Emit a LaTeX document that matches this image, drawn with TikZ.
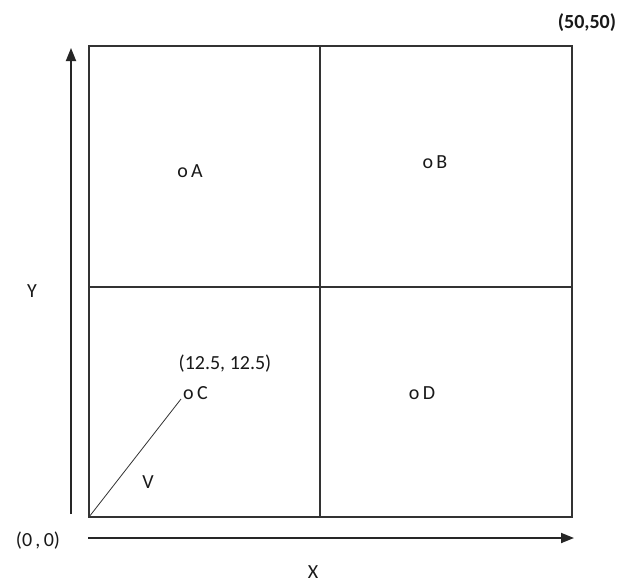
\documentclass[tikz,border=0pt]{standalone}
\usepackage{fontspec}
\setmainfont{Carlito}
\usetikzlibrary{arrows.meta}
\begin{document}
\begin{tikzpicture}[x=1pt,y=-1pt,
  frame/.style={line width=1.4pt,draw=black!80},
  axis/.style={line width=1.8pt,draw=black!85,-{Triangle[length=13pt,width=10pt]}},
  lbl/.style={font=\fontsize{20}{24}\selectfont,text=black!90,inner sep=0pt},
  vec/.style={line width=0.8pt,draw=black!80}]
\useasboundingbox (0,0) rectangle (627,584);
\fill[white] (0,0) rectangle (627,584);
% grid corners
\coordinate (O) at (89,517);
\coordinate (TR) at (572,46);
\coordinate (MB) at (320,517);
\coordinate (MT) at (320,46);
\coordinate (ML) at (89,287);
\coordinate (MR) at (572,287);
\draw[frame] (O) rectangle (TR);
\draw[frame] (MB) -- (MT);
\draw[frame] (ML) -- (MR);
% axes
\coordinate (Yb) at (71,514);
\coordinate (Yt) at (71,48);
\coordinate (Xl) at (88,538);
\coordinate (Xr) at (574,538);
\draw[axis] (Yb) -- (Yt);
\draw[axis] (Xl) -- (Xr);
% labels
\node[lbl] (lorig) at (38,541) {(0\,,\,0)};
\node[lbl] (lx) at (313,572) {X};
\node[lbl] (ly) at (32,291) {Y};
\node[lbl,font=\fontsize{20}{24}\selectfont\bfseries] (ltr) at (587,23) {(50,50)};
\node[lbl] (A) at (190,171) {o\,A};
\node[lbl] (B) at (435,162) {o\,B};
\node[lbl] (D) at (422,393) {o\,D};
\node[lbl] (cc) at (225,364) {(12.5, 12.5)};
\node[lbl,anchor=west] (C) at (183,393) {o\,C};
\node[lbl] (V) at (148,482) {V};
\coordinate (Cend) at (181,399);
\draw[vec] (O) -- (Cend);
\end{tikzpicture}
\end{document}
